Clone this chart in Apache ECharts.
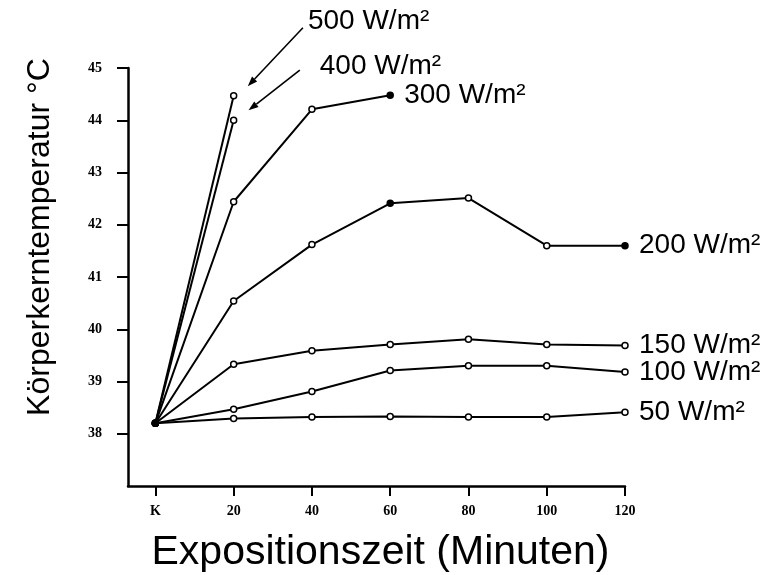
<!DOCTYPE html>
<html>
<head>
<meta charset="utf-8">
<script src="https://cdn.jsdelivr.net/npm/echarts@6/dist/echarts.min.js"></script>
<style>
  html, body { margin: 0; padding: 0; background: #fff; }
  #chart { width: 767px; height: 575px; }
</style>
</head>
<body>
<div id="chart"></div>
<script>
// Expositionszeit in Minuten, 0 = K (Kontrolle)
const minutes = [0, 20, 40, 60, 80, 100, 120];
const xTickLabels = ['K', '20', '40', '60', '80', '100', '120'];
const yTicks = [38, 39, 40, 41, 42, 43, 44, 45];

const w500 = [38.2, 44.47];
const w400 = [38.2, 44.0];
const w300 = [38.2, 42.44, 44.21, 44.48];
const w200 = [38.2, 40.54, 41.62, 42.41, 42.51, 41.6, 41.6];
const w150 = [38.2, 39.33, 39.59, 39.71, 39.81, 39.71, 39.69];
const w100 = [38.2, 38.47, 38.81, 39.21, 39.30, 39.30, 39.18];
const w50  = [38.2, 38.29, 38.32, 38.33, 38.32, 38.32, 38.41];

// Punkte, die im Original gefüllt sind
const filled300 = [0, 3];
const filled200 = [0, 3, 6];

// Pfeile zu den Beschriftungen (Datenkoordinaten: von, nach)
const arrow500 = [[37.7, 45.77], [23.6, 44.65]];
const arrow400 = [[36.9, 44.96], [23.8, 44.19]];

const labelFont = '28px "Liberation Sans"';

const chart = echarts.init(document.getElementById('chart'));

function pts(vals, filled) {
  filled = filled || [0];
  return vals.map((v, i) => {
    const p = { value: [minutes[i], v] };
    if (filled.indexOf(i) >= 0) p.itemStyle = { color: '#000' };
    return p;
  });
}

function lineSeries(name, vals, filled, withLabel) {
  return {
    name: name,
    type: 'line',
    data: pts(vals, filled),
    symbol: 'circle',
    symbolSize: 6,
    showAllSymbol: true,
    lineStyle: { color: '#000', width: 2 },
    itemStyle: { color: '#fff', borderColor: '#000', borderWidth: 1.5 },
    endLabel: withLabel ? {
      show: true,
      formatter: name,
      distance: 14,
      color: '#000',
      fontFamily: 'Liberation Sans',
      fontSize: 28
    } : { show: false },
    clip: false,
    animation: false,
    z: 3
  };
}

const option = {
  animation: false,
  backgroundColor: '#fff',
  grid: { left: 128, top: 68, right: 142, bottom: 89, outerBoundsMode: 'none', containLabel: false },
  xAxis: {
    type: 'value',
    min: -7,
    max: 120,
    name: 'Expositionszeit (Minuten)',
    nameLocation: 'middle',
    nameGap: 46,
    nameTextStyle: { fontFamily: 'Liberation Sans', fontSize: 41, color: '#000', padding: [0, 0, 0, 8] },
    axisLine: { onZero: false, lineStyle: { color: '#000', width: 2.5 } },
    axisTick: { show: true, length: 10, customValues: minutes, lineStyle: { color: '#000', width: 2 } },
    axisLabel: {
      customValues: minutes,
      margin: 18,
      color: '#000',
      fontFamily: 'Liberation Serif',
      fontWeight: 'bold',
      fontSize: 14,
      formatter: v => xTickLabels[minutes.indexOf(v)]
    },
    splitLine: { show: false }
  },
  yAxis: {
    type: 'value',
    min: 37,
    max: 45,
    name: 'Körperkerntemperatur °C',
    nameLocation: 'middle',
    nameGap: 72,
    nameRotate: 90,
    nameTextStyle: { fontFamily: 'Liberation Sans', fontSize: 32, color: '#000', padding: [0, 0, 0, 80] },
    axisLine: { show: true, onZero: false, lineStyle: { color: '#000', width: 2.5 } },
    axisTick: { show: true, length: 11, customValues: yTicks, lineStyle: { color: '#000', width: 2 } },
    axisLabel: {
      customValues: yTicks,
      margin: 26,
      color: '#000',
      fontFamily: 'Liberation Serif',
      fontWeight: 'bold',
      fontSize: 14
    },
    splitLine: { show: false }
  },
  series: [
    lineSeries('500 W/m²', w500, [0], false),
    lineSeries('400 W/m²', w400, [0], false),
    lineSeries('300 W/m²', w300, filled300, true),
    lineSeries('200 W/m²', w200, filled200, true),
    lineSeries('150 W/m²', w150, [0], true),
    lineSeries('100 W/m²', w100, [0], true),
    lineSeries('50 W/m²', w50, [0], true)
  ]
};

chart.setOption(option);

// Pfeile + freie Beschriftungen über die Achsen-Skala platzieren
function arrowGraphics(coords) {
  const a = chart.convertToPixel({ gridIndex: 0 }, coords[0]);
  const b = chart.convertToPixel({ gridIndex: 0 }, coords[1]);
  const ang = Math.atan2(b[1] - a[1], b[0] - a[0]);
  const len = 10, half = 3.5;
  const bx = b[0] - len * Math.cos(ang), by = b[1] - len * Math.sin(ang);
  const nx = -Math.sin(ang) * half, ny = Math.cos(ang) * half;
  return [
    { type: 'line', shape: { x1: a[0], y1: a[1], x2: bx, y2: by }, style: { stroke: '#000', lineWidth: 1.6 } },
    { type: 'polygon', shape: { points: [[b[0], b[1]], [bx + nx, by + ny], [bx - nx, by - ny]] }, style: { fill: '#000' } }
  ];
}

const p500 = chart.convertToPixel({ gridIndex: 0 }, arrow500[0]);
const p400 = chart.convertToPixel({ gridIndex: 0 }, arrow400[0]);

chart.setOption({
  graphic: [
    ...arrowGraphics(arrow500),
    ...arrowGraphics(arrow400),
    { type: 'text', x: p500[0] + 5, y: p500[1] - 6, style: { text: '500 W/m²', font: labelFont, fill: '#000', verticalAlign: 'middle' } },
    { type: 'text', x: p400[0] + 20, y: p400[1] - 4, style: { text: '400 W/m²', font: labelFont, fill: '#000', verticalAlign: 'middle' } }
  ]
});
</script>
</body>
</html>
